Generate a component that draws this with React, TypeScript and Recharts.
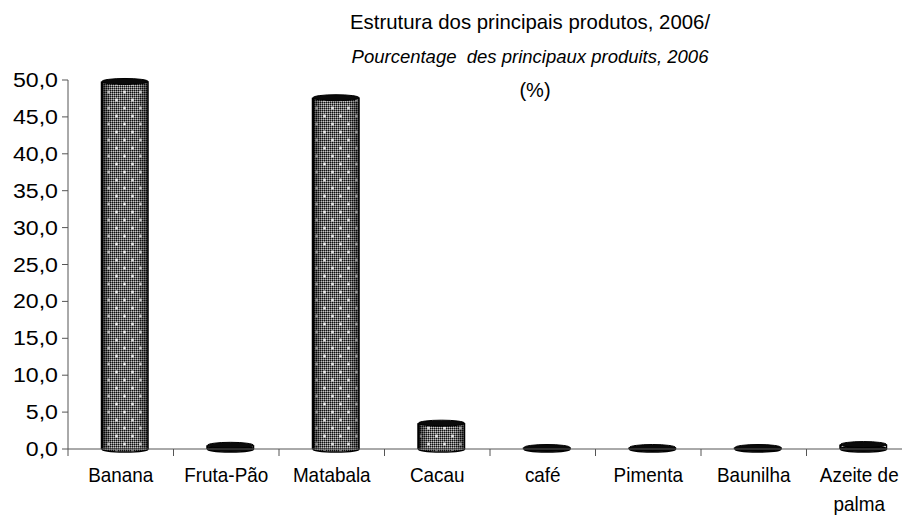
import React from "react";
import { BarChart, Bar, XAxis, YAxis, Text } from "recharts";

const produtos = [
  "Banana",
  "Fruta-Pão",
  "Matabala",
  "Cacau",
  "café",
  "Pimenta",
  "Baunilha",
  "Azeite de palma",
];
const percentagens = [49.8, 0.5, 47.6, 3.5, 0.2, 0.2, 0.2, 0.6];
const yTicks = [0, 5, 10, 15, 20, 25, 30, 35, 40, 45, 50];

const data = produtos.map((nome, i) => ({ nome, valor: percentagens[i] }));

const FONT = "'Liberation Sans', Arial, sans-serif";

const Cylinder = (props: any) => {
  const { x, y, width, height } = props;
  const cx = x + 4;
  const ry = 3;
  const h = Math.max(height, 0);
  const tiny = h < 5;
  return (
    <g>
      <ellipse
        cx={cx + width / 2}
        cy={y + h}
        rx={width / 2}
        ry={ry}
        fill={tiny ? "#0a0a0a" : "url(#grainha)"}
        stroke="#000"
        strokeWidth={1.5}
      />
      {!tiny && (
        <>
          <rect x={cx} y={y} width={width} height={h} fill="url(#grainha)" />
          <rect x={cx} y={y} width={width} height={h} fill="url(#sombra)" />
        </>
      )}
      <line x1={cx} y1={y} x2={cx} y2={y + h} stroke="#000" strokeWidth={2.5} />
      <line
        x1={cx + width}
        y1={y}
        x2={cx + width}
        y2={y + h}
        stroke="#000"
        strokeWidth={1.5}
      />
      <ellipse
        cx={cx + width / 2}
        cy={y}
        rx={width / 2}
        ry={ry}
        fill="#0a0a0a"
        stroke="#000"
        strokeWidth={1}
      />
    </g>
  );
};

const XTick = (props: any) => {
  const { x, y, payload } = props;
  const top = y - 8;
  return (
    <g>
      <line x1={x - 52.75} y1={top} x2={x - 52.75} y2={top + 7} stroke="#555" />
      <g transform={`translate(${x},${y + 10}) scale(0.9,1)`}>
        <Text
          x={0}
          y={0}
          width={100}
          textAnchor="middle"
          verticalAnchor="start"
          fontSize={21}
          fontFamily={FONT}
          fill="#000"
          lineHeight={29}
        >
          {payload.value}
        </Text>
      </g>
    </g>
  );
};

const YTick = (props: any) => {
  const { x, y, payload } = props;
  return (
    <g transform={`translate(${x},${y}) scale(1.13,1)`}>
      <text
        x={0}
        y={0}
        dy={7}
        textAnchor="end"
        fontSize={20.5}
        fontFamily={FONT}
        fill="#000"
      >
        {payload.value.toFixed(1).replace(".", ",")}
      </text>
    </g>
  );
};

const titleLine = (
  top: number,
  text: string,
  size: number,
  scale: number,
  italic = false,
  left = 530
) => (
  <div
    style={{
      position: "absolute",
      top,
      left,
      transform: `translateX(-50%) scaleX(${scale})`,
      whiteSpace: "pre",
      fontFamily: FONT,
      fontSize: size,
      fontStyle: italic ? "italic" : "normal",
      lineHeight: "normal",
      color: "#000",
    }}
  >
    {text}
  </div>
);

export default function App() {
  return (
    <div
      style={{
        position: "absolute",
        top: 0,
        left: 0,
        width: 902,
        height: 518,
        overflow: "hidden",
        background: "#fff",
      }}
    >
      <BarChart
        width={930}
        height={518}
        data={data}
        margin={{ top: 80, right: 18, bottom: 0, left: 0 }}
        barCategoryGap={0}
      >
        <defs>
          <pattern id="fino" width={2} height={2} patternUnits="userSpaceOnUse">
            <rect width={2} height={2} fill="#6c6c6c" />
            <rect x={0} y={0} width={1} height={1} fill="#101010" />
            <rect x={1} y={1} width={1} height={1} fill="#c4c4c4" />
          </pattern>
          <pattern id="grainha" width={16} height={16} patternUnits="userSpaceOnUse">
            <rect width={16} height={16} fill="url(#fino)" />
            <path
              d="M3 4h3M4.5 2.5v3M11 12h3M12.5 10.5v3"
              stroke="#f4f4f4"
              strokeWidth={1.3}
              opacity={0.85}
            />
          </pattern>
          <linearGradient id="sombra" x1="0" y1="0" x2="1" y2="0">
            <stop offset="0%" stopColor="#000" stopOpacity={0.6} />
            <stop offset="20%" stopColor="#000" stopOpacity={0} />
            <stop offset="78%" stopColor="#000" stopOpacity={0} />
            <stop offset="100%" stopColor="#000" stopOpacity={0.5} />
          </linearGradient>
        </defs>
        <XAxis
          dataKey="nome"
          height={69}
          interval={0}
          tickLine={false}
          tickSize={6}
          tickMargin={2}
          stroke="#555"
          tick={<XTick />}
        />
        <YAxis
          domain={[0, 50]}
          ticks={yTicks}
          width={68}
          tickSize={6}
          tickMargin={4}
          stroke="#555"
          interval={0}
          tick={<YTick />}
        />
        <Bar
          dataKey="valor"
          barSize={46}
          shape={<Cylinder />}
          isAnimationActive={false}
        />
      </BarChart>
      {titleLine(10, "Estrutura dos principais produtos, 2006/", 21, 0.97)}
      {titleLine(46, "Pourcentage  des principaux produits, 2006", 18.5, 1, true)}
      {titleLine(79, "(%)", 20, 1, false, 535)}
    </div>
  );
}
